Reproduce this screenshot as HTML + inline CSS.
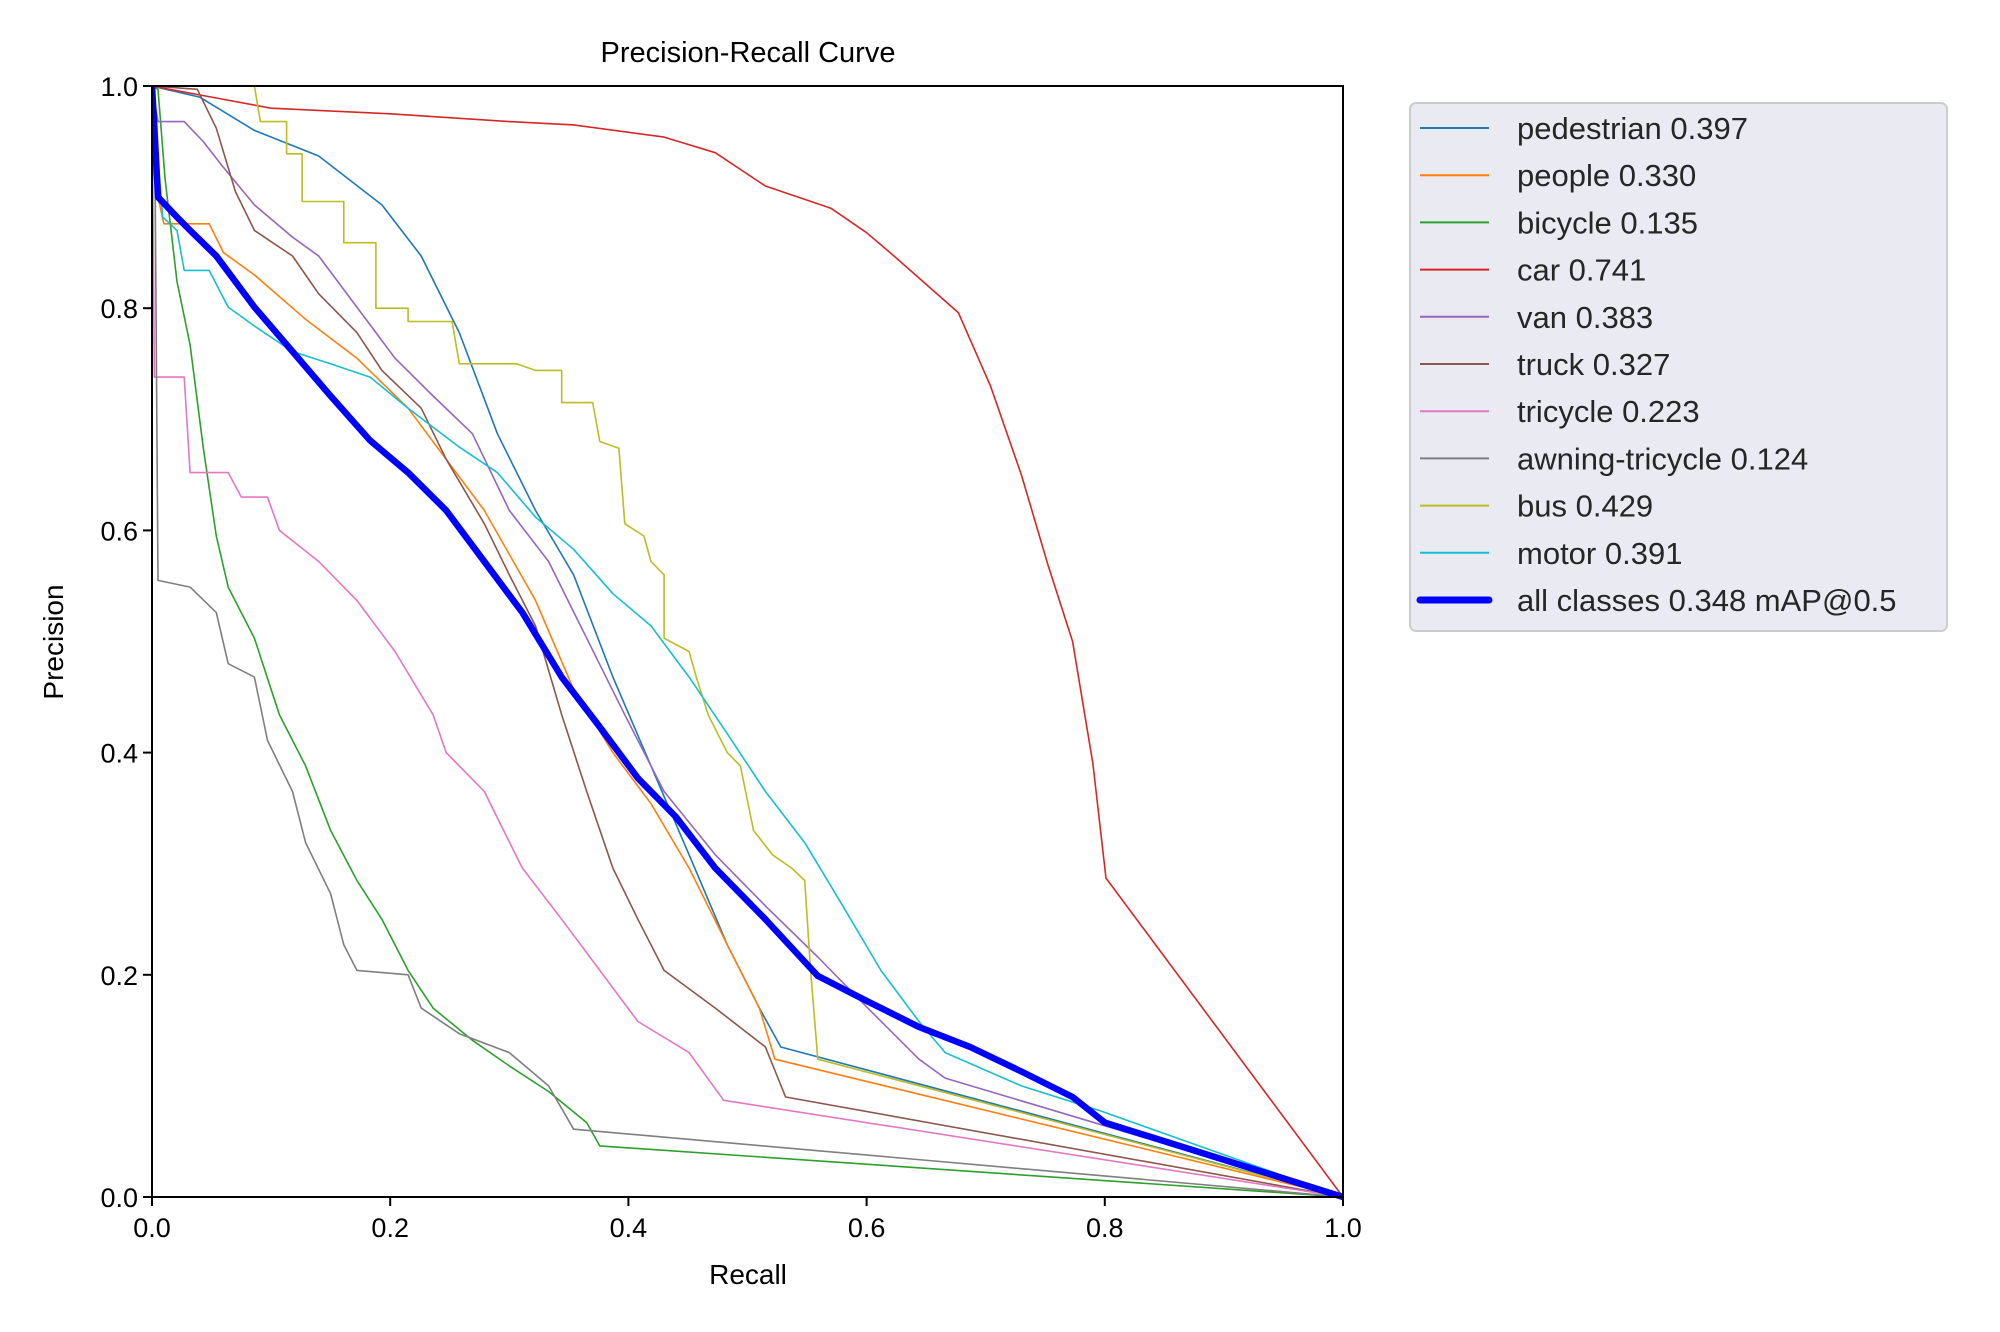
<!DOCTYPE html>
<html><head><meta charset="utf-8">
<style>
html,body{margin:0;padding:0;background:#fff;}
svg{display:block;font-family:"Liberation Sans",Arial,sans-serif;}
</style></head>
<body>
<svg id="chart" width="2000" height="1332" viewBox="0 0 2000 1332" xmlns="http://www.w3.org/2000/svg">
<rect width="2000" height="1332" fill="#fff"/>
<text x="748" y="62" font-size="29" text-anchor="middle" fill="#000">Precision-Recall Curve</text>
<g id="plot"></g>
<g id="axes"></g>
<text x="748" y="1284" font-size="28" text-anchor="middle">Recall</text>
<text transform="translate(63,642) rotate(-90)" font-size="28" text-anchor="middle">Precision</text>
<g id="legend"></g>
</svg>
<script>
const seriesNames = ["pedestrian 0.397","people 0.330","bicycle 0.135","car 0.741","van 0.383","truck 0.327","tricycle 0.223","awning-tricycle 0.124","bus 0.429","motor 0.391","all classes 0.348 mAP@0.5"];
const seriesColors = ["#1f77b4","#ff7f0e","#2ca02c","#d62728","#9467bd","#8c564b","#e377c2","#7f7f7f","#bcbd22","#17becf","#0000ff"];
const tickValues = [0,0.2,0.4,0.6,0.8,1.0];
const tickLabels = ["0.0","0.2","0.4","0.6","0.8","1.0"];

const pedR=[0,0.04,0.086,0.14,0.193,0.226,0.258,0.29,0.322,0.354,0.387,0.419,0.451,0.483,0.51,0.528,1];
const pedP=[1,0.99,0.96,0.937,0.893,0.847,0.778,0.687,0.618,0.56,0.468,0.388,0.308,0.227,0.17,0.135,0];
const peoR=[0,0.005,0.01,0.048,0.06,0.086,0.129,0.172,0.215,0.247,0.279,0.322,0.354,0.387,0.419,0.451,0.483,0.51,0.523,1];
const peoP=[1,0.9,0.876,0.876,0.85,0.83,0.79,0.755,0.71,0.664,0.618,0.537,0.457,0.4,0.354,0.296,0.227,0.17,0.124,0];
const bicR=[0,0.005,0.011,0.021,0.032,0.043,0.054,0.064,0.086,0.107,0.129,0.15,0.172,0.193,0.215,0.236,0.269,0.3,0.333,0.365,0.376,1];
const bicP=[1,0.997,0.916,0.824,0.767,0.675,0.595,0.549,0.503,0.434,0.388,0.33,0.285,0.25,0.204,0.17,0.141,0.118,0.095,0.067,0.046,0];
const carR=[0,0.05,0.1,0.2,0.3,0.354,0.43,0.473,0.515,0.57,0.6,0.623,0.677,0.704,0.73,0.752,0.773,0.79,0.801,1];
const carP=[1,0.99,0.98,0.975,0.968,0.965,0.954,0.94,0.91,0.89,0.868,0.847,0.796,0.73,0.65,0.57,0.5,0.39,0.287,0];
const vanR=[0,0.005,0.027,0.043,0.059,0.086,0.118,0.14,0.172,0.204,0.236,0.269,0.3,0.333,0.365,0.397,0.43,0.473,0.515,0.559,0.601,0.644,0.666,1];
const vanP=[1,0.968,0.968,0.95,0.928,0.893,0.864,0.847,0.801,0.755,0.721,0.687,0.618,0.572,0.503,0.434,0.365,0.308,0.262,0.216,0.17,0.124,0.107,0];
const truR=[0,0.038,0.054,0.07,0.086,0.118,0.14,0.172,0.193,0.226,0.247,0.279,0.3,0.322,0.344,0.365,0.387,0.408,0.43,0.473,0.515,0.532,1];
const truP=[1,0.997,0.962,0.905,0.87,0.847,0.813,0.778,0.744,0.71,0.664,0.606,0.56,0.514,0.434,0.365,0.296,0.25,0.204,0.17,0.135,0.09,0];
const triR=[0,0.002,0.027,0.032,0.064,0.075,0.097,0.107,0.14,0.172,0.204,0.236,0.247,0.279,0.311,0.344,0.376,0.408,0.451,0.48,1];
const triP=[1,0.738,0.738,0.652,0.652,0.63,0.63,0.6,0.572,0.537,0.491,0.434,0.4,0.365,0.296,0.25,0.204,0.158,0.13,0.087,0];
const awnR=[0,0.002,0.005,0.032,0.054,0.064,0.086,0.097,0.118,0.129,0.15,0.161,0.172,0.215,0.226,0.258,0.3,0.333,0.354,1];
const awnP=[1,1,0.555,0.549,0.526,0.48,0.468,0.411,0.365,0.319,0.273,0.227,0.204,0.2,0.17,0.147,0.13,0.1,0.061,0];
const busR=[0.086,0.091,0.113,0.113,0.126,0.126,0.161,0.161,0.188,0.188,0.215,0.215,0.252,0.258,0.306,0.322,0.344,0.344,0.37,0.376,0.392,0.397,0.413,0.419,0.43,0.43,0.451,0.457,0.467,0.483,0.494,0.505,0.521,0.537,0.548,0.553,0.559,1];
const busP=[1,0.968,0.968,0.939,0.939,0.896,0.896,0.859,0.859,0.8,0.8,0.788,0.788,0.75,0.75,0.744,0.744,0.715,0.715,0.68,0.674,0.606,0.595,0.572,0.56,0.503,0.491,0.468,0.434,0.4,0.388,0.33,0.308,0.296,0.285,0.204,0.124,0];
const motR=[0,0.009,0.021,0.027,0.048,0.064,0.086,0.118,0.15,0.183,0.215,0.258,0.29,0.322,0.354,0.387,0.419,0.451,0.483,0.515,0.548,0.58,0.612,0.644,0.666,0.73,0.795,1];
const motP=[1,0.882,0.87,0.834,0.834,0.801,0.784,0.761,0.75,0.738,0.71,0.675,0.652,0.612,0.583,0.543,0.514,0.468,0.417,0.365,0.319,0.262,0.204,0.158,0.13,0.1,0.078,0];
const allR=[0,0.002,0.005,0.021,0.032,0.054,0.086,0.118,0.15,0.183,0.215,0.247,0.279,0.311,0.344,0.376,0.408,0.44,0.473,0.515,0.559,0.601,0.644,0.687,0.73,0.773,0.8,1];
const allP=[1,0.962,0.9,0.882,0.87,0.847,0.801,0.761,0.721,0.681,0.652,0.618,0.572,0.526,0.468,0.423,0.377,0.342,0.296,0.25,0.199,0.176,0.153,0.135,0.113,0.09,0.067,0];

const seriesR=[pedR,peoR,bicR,carR,vanR,truR,triR,awnR,busR,motR,allR];
const seriesP=[pedP,peoP,bicP,carP,vanP,truP,triP,awnP,busP,motP,allP];

const X0=152,X1=1343,Y0=1197,Y1=86;
const xs=v=>X0+v*(X1-X0);
const ys=v=>Y0-v*(Y0-Y1);
const NS="http://www.w3.org/2000/svg";
function mk(tag,attrs,parent){const e=document.createElementNS(NS,tag);for(const k in attrs)e.setAttribute(k,attrs[k]);parent.appendChild(e);return e;}

const plot=document.getElementById('plot');
const clip=mk('clipPath',{id:'clp'},plot);
mk('rect',{x:X0,y:Y1-4,width:X1-X0+4,height:Y0-Y1+8},clip);
seriesR.forEach((R,i)=>{
  let d=R.map((r,j)=>(j?'L':'M')+xs(r).toFixed(1)+','+ys(seriesP[i][j]).toFixed(1)).join(' ');
  const p=mk('path',{d:d,fill:'none',stroke:seriesColors[i],'stroke-width':i===10?6.5:1.6,'stroke-linejoin':'round','clip-path':'url(#clp)'},plot);
  
  
});

const axes=document.getElementById('axes');
const frame=mk('rect',{x:X0,y:Y1,width:X1-X0,height:Y0-Y1,fill:'none',stroke:'#000','stroke-width':2},axes);


tickValues.forEach((v,i)=>{
  mk('line',{x1:xs(v),x2:xs(v),y1:Y0,y2:Y0+9,stroke:'#000','stroke-width':2},axes);
  const tx=mk('text',{x:xs(v),y:Y0+40,'font-size':27,'text-anchor':'middle'},axes);
  tx.textContent=tickLabels[i];
  
  
  mk('line',{x1:X0-9,x2:X0,y1:ys(v),y2:ys(v),stroke:'#000','stroke-width':2},axes);
  const ty=mk('text',{x:X0-14,y:ys(v)+10,'font-size':27,'text-anchor':'end'},axes);
  ty.textContent=tickLabels[i];
  
  
});

const lg=document.getElementById('legend');
mk('rect',{x:1410,y:103,width:537,height:528,rx:6,fill:'#eaeaf2',stroke:'#cccccc','stroke-width':2},lg);
seriesNames.forEach((n,i)=>{
  const y=128+i*47.2;
  const ln=mk('line',{x1:1420,x2:1489,y1:y,y2:y,stroke:seriesColors[i],'stroke-width':i===10?7:2,'stroke-linecap':i===10?'round':'butt'},lg);
  
  
  const t=mk('text',{x:1517,y:y+11,'font-size':31,fill:'#262626'},lg);
  t.textContent=n;
  
  
});
</script>
</body></html>
